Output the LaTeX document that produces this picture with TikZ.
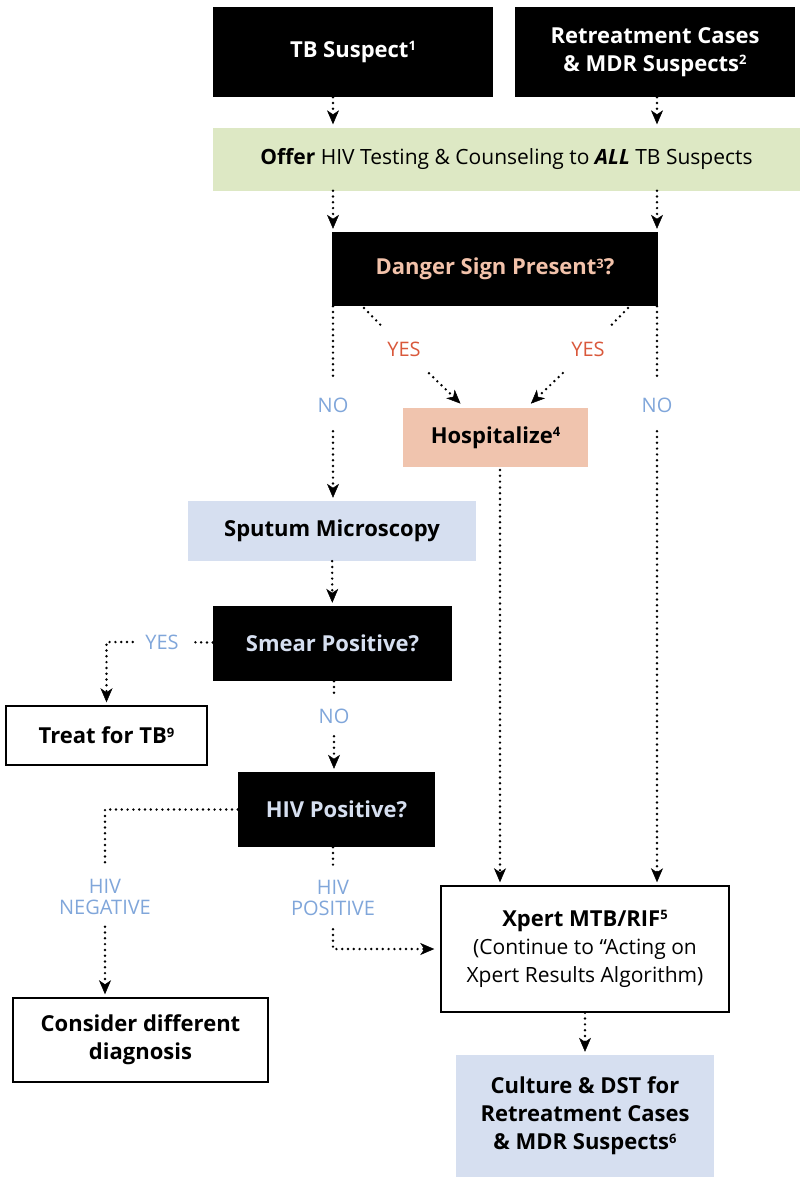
\documentclass[tikz,border=0pt]{standalone}
\usepackage{fontspec}
\setmainfont{Open Sans}
\usetikzlibrary{positioning,arrows.meta}
\definecolor{offergreen}{RGB}{221,232,196}
\definecolor{hospsalmon}{RGB}{240,196,174}
\definecolor{dangerpeach}{RGB}{242,194,170}
\definecolor{labblue}{RGB}{214,223,240}
\definecolor{noblue}{RGB}{128,166,218}
\definecolor{yesred}{RGB}{217,88,59}
\newcommand{\fn}[1]{\raisebox{0.55ex}{\fontsize{13}{13}\selectfont #1}}
\newcommand{\bigbf}{\fontsize{22}{28}\selectfont\bfseries}

\begin{document}
\begin{tikzpicture}[x=1pt,y=-1pt,
  plain/.style={rectangle,inner sep=4pt,align=center,font=\fontsize{21}{28}\selectfont},
  box/.style={plain,font=\bigbf},
  blk/.style={box,fill=black,text=white},
  outl/.style={box,draw=black,line width=1.5pt},
  lbl/.style={inner sep=0pt,align=center,font=\fontsize{20}{20.5}\selectfont,text=noblue},
  dotline/.style={line width=2.7pt,line cap=round,dash pattern=on 0pt off 5.8pt},
  arr/.style={dotline,-{Stealth[length=14pt,width=12pt,inset=4pt,line width=0.5pt]},shorten >=3pt}
]
\useasboundingbox (0,0) rectangle (800,1178);

\node[blk,minimum width=280pt,minimum height=90pt] (tb) at (353,52) {TB Suspect\fn{1}};
\node[blk,minimum width=280pt,minimum height=90pt] (retreat) at (655,52) {Retreatment Cases\\\& MDR Suspects\fn{2}};
\node[plain,fill=offergreen,minimum width=587pt,minimum height=63pt] (offer) at (506.5,159) {\textbf{Offer} HIV Testing \& Counseling to \textbf{\textit{ALL}} TB Suspects};
\node[blk,text=dangerpeach,minimum width=326pt,minimum height=74pt] (danger) at (495,269) {Danger Sign Present\fn{3}?};
\node[box,fill=hospsalmon,minimum width=185pt,minimum height=59pt] (hosp) at (495.5,437.5) {Hospitalize\fn{4}};
\node[box,fill=labblue,minimum width=288pt,minimum height=60pt] (sputum) at (332,531) {Sputum Microscopy};
\node[blk,text=labblue,minimum width=239pt,minimum height=75pt] (smear) at (332.5,643.5) {Smear Positive?};
\node[outl,minimum width=201pt,minimum height=59pt] (treat) at (106.5,735.5) {Treat for TB\fn{9}};
\node[blk,text=labblue,minimum width=197pt,minimum height=75pt] (hiv) at (336.5,809.5) {HIV Positive?};
\node[outl,minimum width=255pt,minimum height=84pt] (consider) at (140.5,1040) {Consider different\\diagnosis};
\node[plain,draw=black,line width=1.5pt,minimum width=288pt,minimum height=126pt] (xpert) at (585,949) {{\bigbf Xpert MTB/RIF\fn{5}}\\(Continue to “Acting on\\Xpert Results Algorithm)};
\node[box,fill=labblue,minimum width=258pt,minimum height=122pt] (culture) at (585,1116) {Culture \& DST for\\Retreatment Cases\\\& MDR Suspects\fn{6}};

\node[lbl,minimum height=52pt] (noL) at (333,405) {NO};
\node[lbl,minimum height=52pt] (noR) at (657,405) {NO};
\node[lbl,text=yesred,minimum width=50pt,minimum height=48pt] (yesL) at (404,349) {YES};
\node[lbl,text=yesred,minimum width=50pt,minimum height=48pt] (yesR) at (588,349) {YES};
\node[lbl,minimum width=58pt] (yesS) at (162,642) {YES};
\node[lbl,minimum height=40pt] (noS) at (334,716) {NO};
\node[lbl,minimum height=62pt] (hivpos) at (333,898) {HIV\\POSITIVE};
\node[lbl,minimum height=59pt] (hivneg) at (105,897) {HIV\\NEGATIVE};

\coordinate (dl) at (364,308);
\coordinate (dr) at (628,308);
\coordinate (hx) at (500,470);

\draw[arr] (tb.south -| noL) -- (offer.north -| noL);
\draw[arr] (retreat.south -| noR) -- (offer.north -| noR);
\draw[arr] (offer.south -| noL) -- (danger.north -| noL);
\draw[arr] (offer.south -| noR) -- (danger.north -| noR);
\draw[dotline] (danger.south -| noL) -- (noL);
\draw[arr] (noL) -- (sputum.north -| noL);
\draw[dotline] (danger.south -| noR) -- (noR);
\draw[arr] (noR) -- (xpert.north -| noR);
\draw[dotline] (dl) -- (yesL);
\draw[arr,shorten >=6pt] (yesL) -- (hosp);
\draw[dotline] (dr) -- (yesR);
\draw[arr,shorten >=6pt] (yesR) -- (hosp);
\draw[arr] (hx) -- (xpert.north -| hx);
\draw[arr] (sputum) -- (smear);
\draw[dotline] (smear) -- (yesS);
\draw[arr] (yesS) -| (treat);
\draw[dotline] (smear.south -| noS) -- (noS);
\draw[arr] (noS) -- (hiv.north -| noS);
\draw[dotline] (hiv) -| (hivneg);
\draw[arr] (hivneg) -- (hivneg |- consider.north);
\draw[dotline] (hiv.south -| hivpos) -- (hivpos);
\draw[arr,shorten >=6pt] (hivpos) |- (xpert);
\draw[arr] (xpert) -- (culture);
\end{tikzpicture}
\end{document}
